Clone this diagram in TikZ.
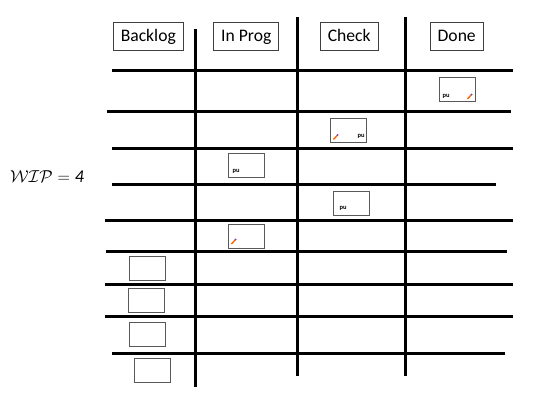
\documentclass[tikz,border=0pt]{standalone}
\usepackage{fontspec}
\setmainfont{Carlito}

\begin{document}
\begin{tikzpicture}[x=1pt, y=-1pt,
  header/.style={draw=black!75, line width=1pt, font=\fontsize{17.6}{20}\selectfont,
    inner xsep=7.5pt, inner ysep=0pt, minimum height=28pt, text height=12pt, text depth=3.5pt},
  card/.style={draw=black!65, line width=1pt, minimum width=36pt, minimum height=24pt, inner sep=0pt},
  sig/.style={font=\fontsize{6.5}{6.5}\selectfont\bfseries, inner sep=0pt},
  pen/.style={line width=1.4pt, orange!80!red},
  lane/.style={line width=3pt}]
  \useasboundingbox (0,0) rectangle (537,407);

  % 列标题
  \node[header] (backlog) at (148.3, 36.8) {Backlog};
  \node[header] (inprog)  at (246.3, 36.8) {In Prog};
  \node[header] (check)   at (349.2, 36.8) {Check};
  \node[header] (done)    at (456.7, 36.8) {Done};

  % 竖线（列分隔）
  \draw[lane] (195, 29) -- (195, 387);
  \draw[lane] (297, 17) -- (297, 376);
  \draw[lane] (405, 17) -- (405, 376);

  % 横线（每一行）
  \draw[lane] (112, 70)  -- (513, 70);
  \draw[lane] (107, 111) -- (511, 111);
  \draw[lane] (112, 148) -- (513, 148);
  \draw[lane] (112, 184) -- (496, 184);
  \draw[lane] (105, 220) -- (513, 220);
  \draw[lane] (106, 251) -- (507, 251);
  \draw[lane] (105, 284) -- (513, 284);
  \draw[lane] (105, 316) -- (513, 316);
  \draw[lane] (112, 353) -- (505, 353);

  % WIP 上限
  \node (wip) at (47, 177) {\fontsize{18}{20}\selectfont $\mathcal{WIP} = \textit{4}$};

  % 进行中的卡片
  \node[card] (done1) at (457.5, 89.5)  {};
  \node[card] (chk1)  at (348.3, 130.3) {};
  \node[card] (prog1) at (246.3, 165.3) {};
  \node[card] (chk2)  at (351.5, 203.2) {};
  \node[card] (prog2) at (246.3, 236.3) {};

  % 签名与笔迹
  \node[sig] (done1s) at (446, 96.5)  {pu};
  \node[sig] (chk1s)  at (361, 136.5) {pu};
  \node[sig] (prog1s) at (236, 171.5) {pu};
  \node[sig] (chk2s)  at (343, 208.5) {pu};
  \draw[pen] (467.5, 99) -- (472, 94);
  \draw[pen] (333.5, 139.5) -- (338, 134.5);
  \draw[pen] (231.5, 244) -- (236, 239);
  \fill[blue!70] (471.5, 94.5) circle (0.9);
  \fill[blue!70] (337.5, 135) circle (0.9);
  \fill[blue!70] (235.5, 239.5) circle (0.9);

  % 待办卡片
  \node[card] (back1) at (147.5, 268.2) {};
  \node[card] (back2) at (146,   300.7) {};
  \node[card] (back3) at (147.5, 334.2) {};
  \node[card] (back4) at (152.5, 370)   {};
\end{tikzpicture}
\end{document}
